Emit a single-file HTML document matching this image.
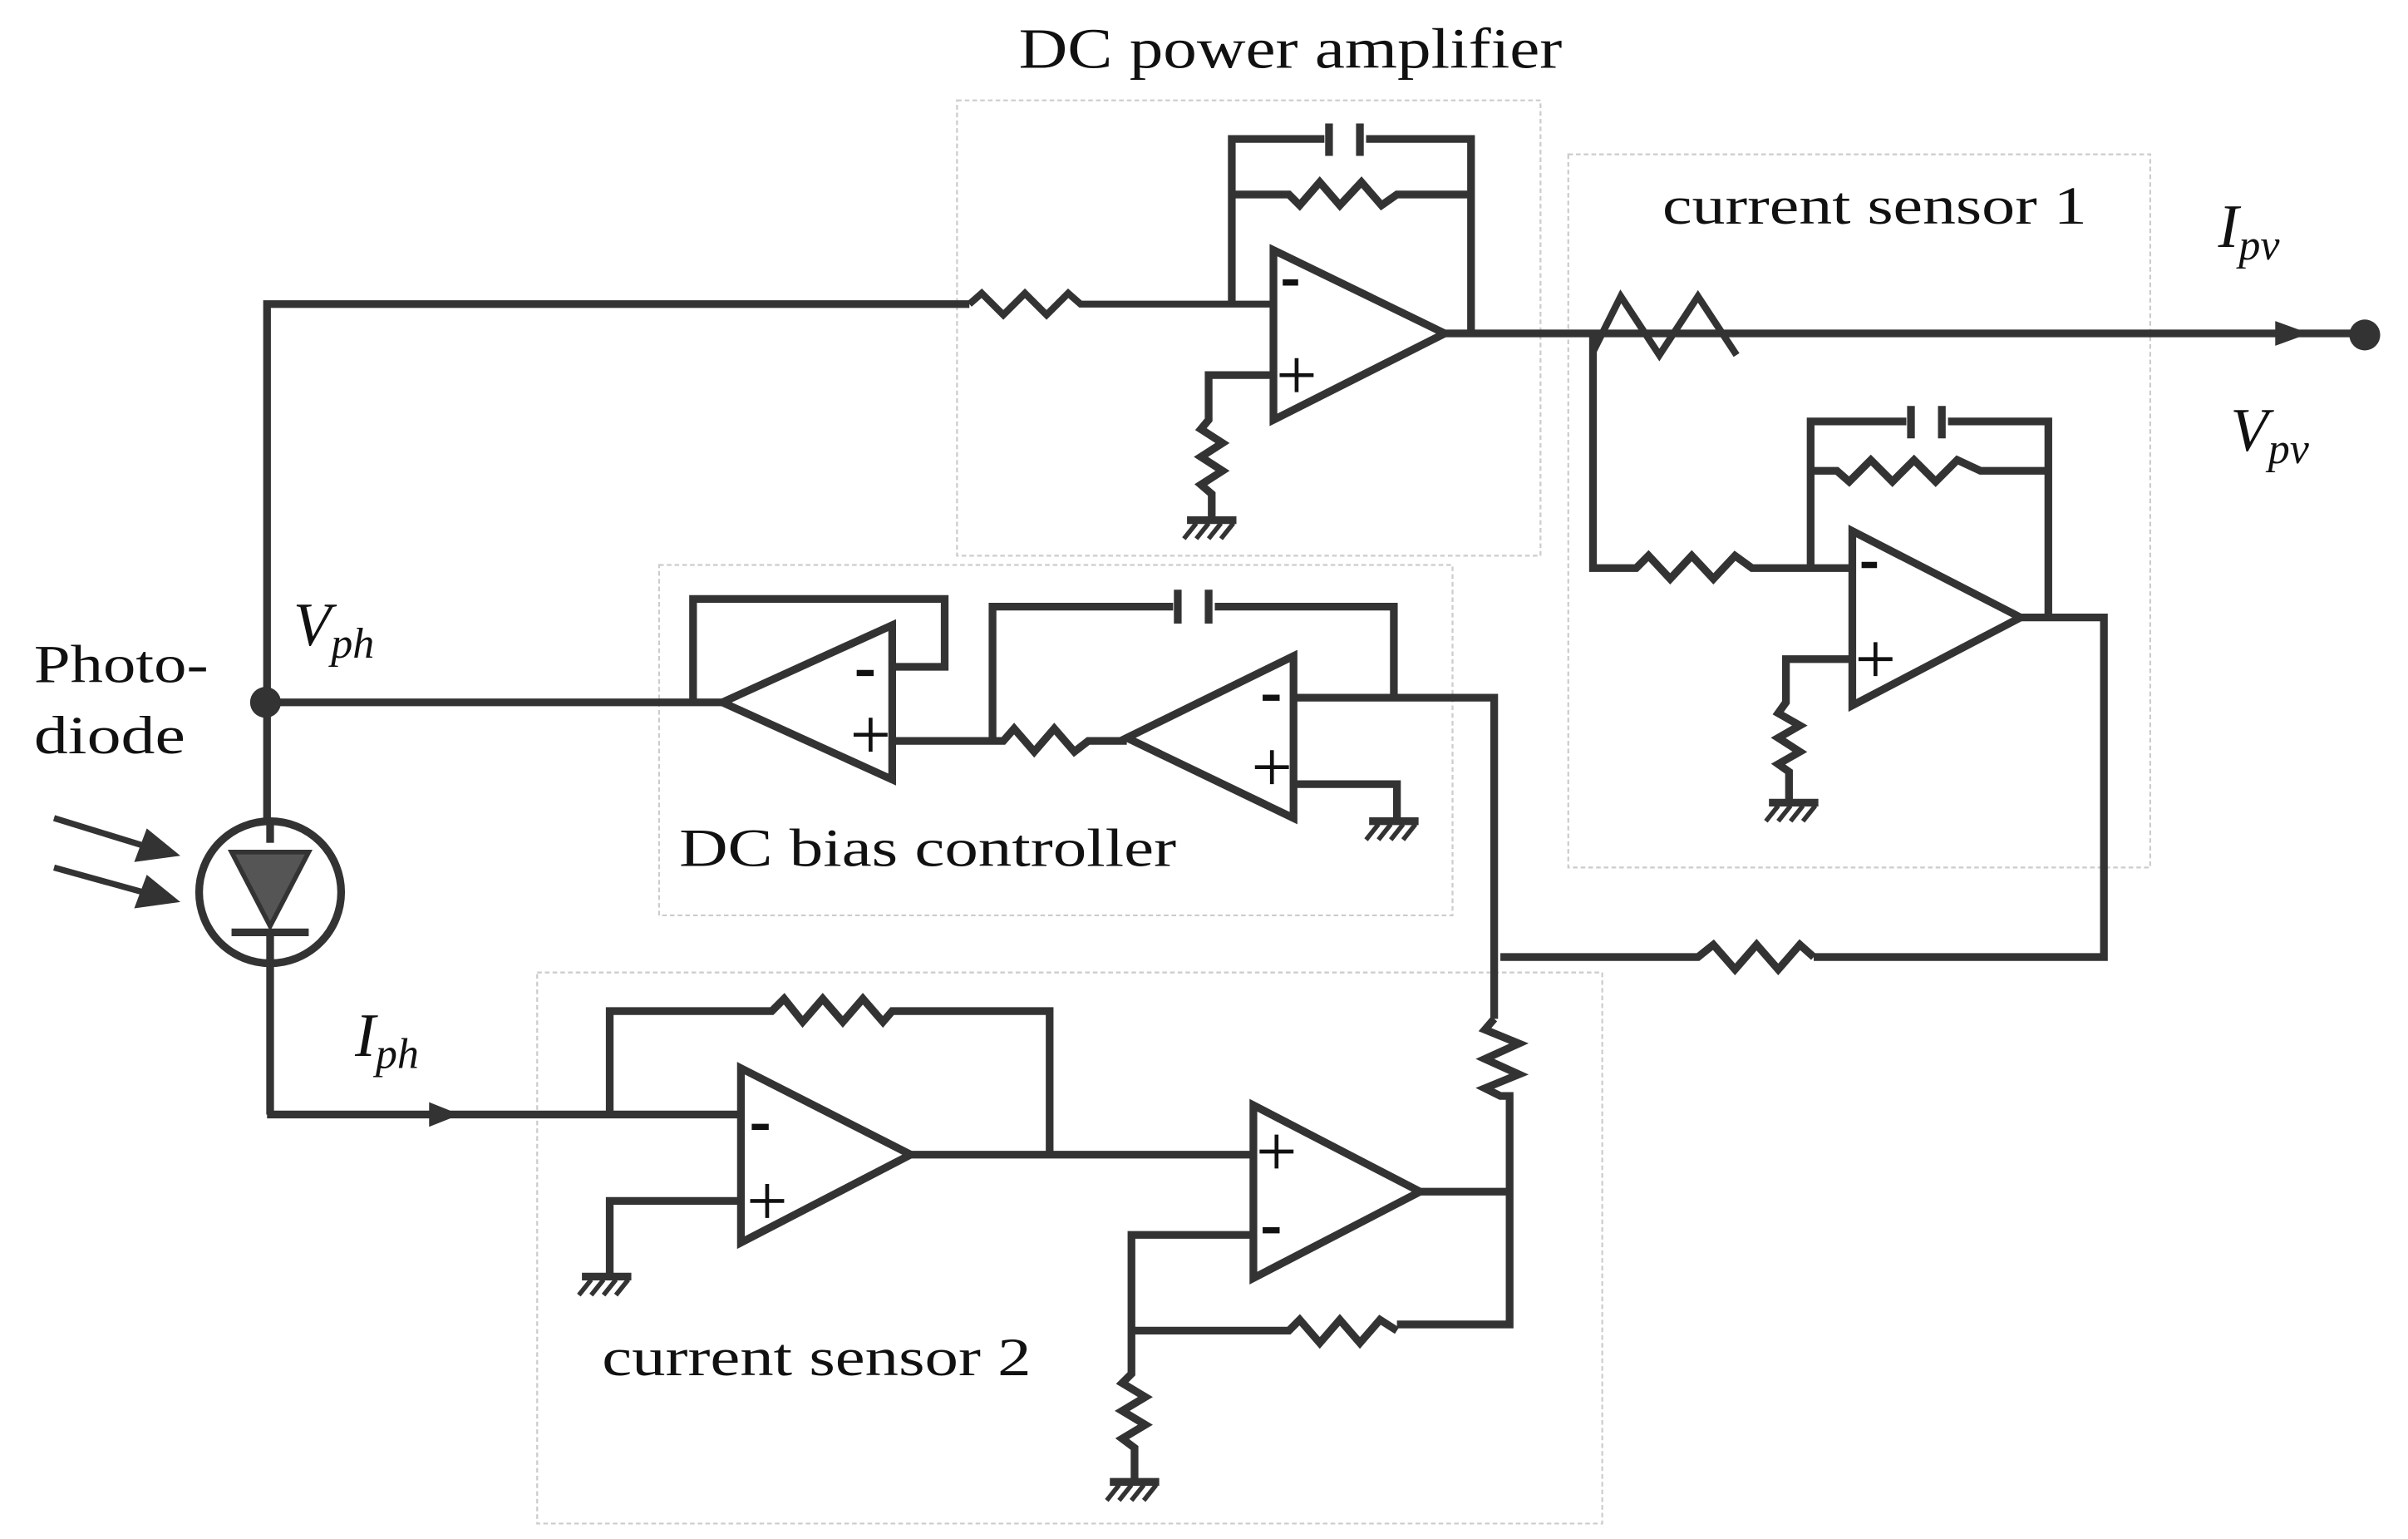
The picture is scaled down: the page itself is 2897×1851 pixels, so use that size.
<!DOCTYPE html>
<html><head><meta charset="utf-8"><style>html,body{margin:0;padding:0;background:#fff;}svg{display:block}</style></head><body>
<svg width="2897" height="1851" viewBox="0 0 1560 997" preserveAspectRatio="none" xmlns="http://www.w3.org/2000/svg">
<defs>
<g id="gnd"><line x1="-16" y1="0" x2="16" y2="0" stroke="#333" stroke-width="5"/><path d="M-10 2 L-18 12 M-2 2 L-10 12 M6 2 L-2 12 M14 2 L6 12" stroke="#333" stroke-width="3"/></g>
</defs>
<rect width="1560" height="997" fill="#fff"/>
<g fill="none" stroke="#ccc" stroke-width="1.2" stroke-dasharray="3,2">
<rect x="620" y="65" width="378" height="295"/>
<rect x="1016" y="100" width="377" height="462"/>
<rect x="427" y="366" width="514" height="227"/>
<rect x="348" y="630" width="690" height="357"/>
</g>
<g fill="none" stroke="#333" stroke-width="5" stroke-linejoin="miter">
<polyline points="173,455 173,197 628,197"/>
<polyline points="628,197 636,190 650,204 664,190 678,204 692,190 700,197 825,197" stroke-width="4.5"/>
<line x1="173" y1="455" x2="173" y2="533"/>
<line x1="175" y1="624" x2="175" y2="722"/>
<line x1="173" y1="722" x2="480" y2="722"/>
<line x1="173" y1="455" x2="468" y2="455"/>
<polygon points="825,162 825,272 936,216"/>
<polyline points="798,197 798,90 858,90"/>
<polyline points="885,90 953,90 953,216"/>
<polyline points="798,126 835,126 842,133 855,118 868,133 882,118 895,133 905,126 953,126"/>
<polyline points="825,243 783,243 783,272 778,278 792,287 778,296 792,305 778,314 785,320 785,335"/>
<line x1="936" y1="216" x2="1530" y2="216"/>
<polyline points="1032,228 1050,192 1075,230 1100,192 1125,230" stroke-width="4.5"/>
<polyline points="1032,216 1032,368 1060,368 1068,360 1082,375 1096,360 1110,375 1124,360 1135,368 1200,368"/>
<polygon points="1200,344 1200,457 1309,400"/>
<polyline points="1173,368 1173,273 1235,273"/>
<polyline points="1262,273 1327,273 1327,400"/>
<polyline points="1173,305 1190,305 1198,312 1212,298 1226,312 1240,298 1254,312 1268,298 1283,305 1327,305"/>
<polyline points="1200,427 1157,427 1157,455 1152,462 1166,470 1152,478 1166,487 1152,495 1159,500 1159,518"/>
<polyline points="1309,400 1363,400 1363,620 1175,620"/>
<polyline points="1175,620 1166,612 1152,628 1138,612 1124,628 1110,612 1100,620 972,620"/>
<polygon points="468,455 578,405 578,505"/>
<polyline points="578,432 612,432 612,388 449,388 449,455"/>
<polyline points="578,480 650,480 657,472 670,487 683,472 696,487 705,480 730,480"/>
<polygon points="730,478 838,425 838,530"/>
<polyline points="643,480 643,393 760,393"/>
<polyline points="787,393 903,393 903,452"/>
<polyline points="838,452 968,452 968,660"/>
<polyline points="838,508 905,508 905,530"/>
<polyline points="968,660 962,667 984,676 962,686 984,696 962,705 972,710 978,710 978,858 905,858"/>
<line x1="920" y1="772" x2="978" y2="772"/>
<polygon points="480,692 480,805 590,748"/>
<polyline points="395,722 395,655 500,655 508,647 520,662 533,647 546,662 559,647 572,662 578,655 680,655 680,748"/>
<polyline points="480,778 395,778 395,825"/>
<line x1="590" y1="748" x2="812" y2="748"/>
<polygon points="812,716 812,828 920,772"/>
<polyline points="812,800 733,800 733,890 727,896 742,905 727,914 742,923 727,932 735,938 735,958"/>
<polyline points="733,862 835,862 842,855 855,870 868,855 881,870 894,855 905,862"/>
</g>
<g stroke="#333" stroke-width="5">
<line x1="861" y1="80" x2="861" y2="101"/><line x1="881" y1="80" x2="881" y2="101"/>
<line x1="1238" y1="263" x2="1238" y2="284"/><line x1="1258" y1="263" x2="1258" y2="284"/>
<line x1="763" y1="382" x2="763" y2="404"/><line x1="783" y1="382" x2="783" y2="404"/>
</g>
<use href="#gnd" x="785" y="337"/>
<use href="#gnd" x="1162" y="520"/>
<use href="#gnd" x="903" y="532"/>
<use href="#gnd" x="393" y="827"/>
<use href="#gnd" x="735" y="960"/>
<g stroke="#111" stroke-width="2.5">
<line x1="831" y1="183" x2="841" y2="183" stroke-width="4"/><path d="M829 243 H851 M840 232 V254"/>
<line x1="1206" y1="366" x2="1216" y2="366" stroke-width="4"/><path d="M1204 427 H1226 M1215 416 V438"/>
<line x1="555" y1="436" x2="566" y2="436" stroke-width="4"/><path d="M553 476 H575 M564 465 V487"/>
<line x1="818" y1="452" x2="829" y2="452" stroke-width="4"/><path d="M813 497 H835 M824 486 V508"/>
<line x1="487" y1="730" x2="498" y2="730" stroke-width="4"/><path d="M486 778 H508 M497 767 V789"/>
<line x1="818" y1="797" x2="829" y2="797" stroke-width="4"/><path d="M816 746 H838 M827 735 V757"/>
</g>
<polygon points="1474,208 1496,216 1474,224" fill="#333"/>
<circle cx="1532" cy="217" r="10" fill="#333"/>
<circle cx="172" cy="455" r="10" fill="#333"/>
<polygon points="278,714 298,722 278,730" fill="#333"/>
<circle cx="175" cy="578" r="46" fill="none" stroke="#333" stroke-width="5"/>
<line x1="175" y1="533" x2="175" y2="546" stroke="#333" stroke-width="5"/>
<polygon points="150,552 200,552 175,600" fill="#555" stroke="#333" stroke-width="3"/>
<line x1="150" y1="604" x2="200" y2="604" stroke="#333" stroke-width="5"/>
<line x1="175" y1="604" x2="175" y2="624" stroke="#333" stroke-width="5"/>
<g stroke="#333" stroke-width="4" fill="#333">
<line x1="35" y1="530" x2="100" y2="550"/><polygon points="112,553 90,556 96,540"/>
<line x1="35" y1="562" x2="100" y2="580"/><polygon points="112,583 90,586 96,570"/>
</g>
<g font-family="Liberation Serif, serif" fill="#111" lengthAdjust="spacingAndGlyphs">
<text x="660" y="44" font-size="37" textLength="352" lengthAdjust="spacingAndGlyphs">DC power amplifier</text>
<text x="1077" y="145" font-size="35" textLength="275" lengthAdjust="spacingAndGlyphs">current sensor 1</text>
<text x="440" y="561" font-size="35" textLength="322" lengthAdjust="spacingAndGlyphs">DC bias controller</text>
<text x="390" y="891" font-size="35" textLength="278" lengthAdjust="spacingAndGlyphs">current sensor 2</text>
<text x="22" y="442" font-size="35" textLength="113" lengthAdjust="spacingAndGlyphs">Photo-</text>
<text x="22" y="488" font-size="35" textLength="98" lengthAdjust="spacingAndGlyphs">diode</text>
<g font-style="italic">
<text x="1437" y="160" font-size="40">I<tspan font-size="28" dy="8">pv</tspan></text>
<text x="1445" y="292" font-size="40">V<tspan font-size="28" dy="8">pv</tspan></text>
<text x="190" y="418" font-size="40">V<tspan font-size="28" dy="8">ph</tspan></text>
<text x="230" y="684" font-size="40">I<tspan font-size="28" dy="8">ph</tspan></text>
</g>
</g>
</svg>
</body></html>
